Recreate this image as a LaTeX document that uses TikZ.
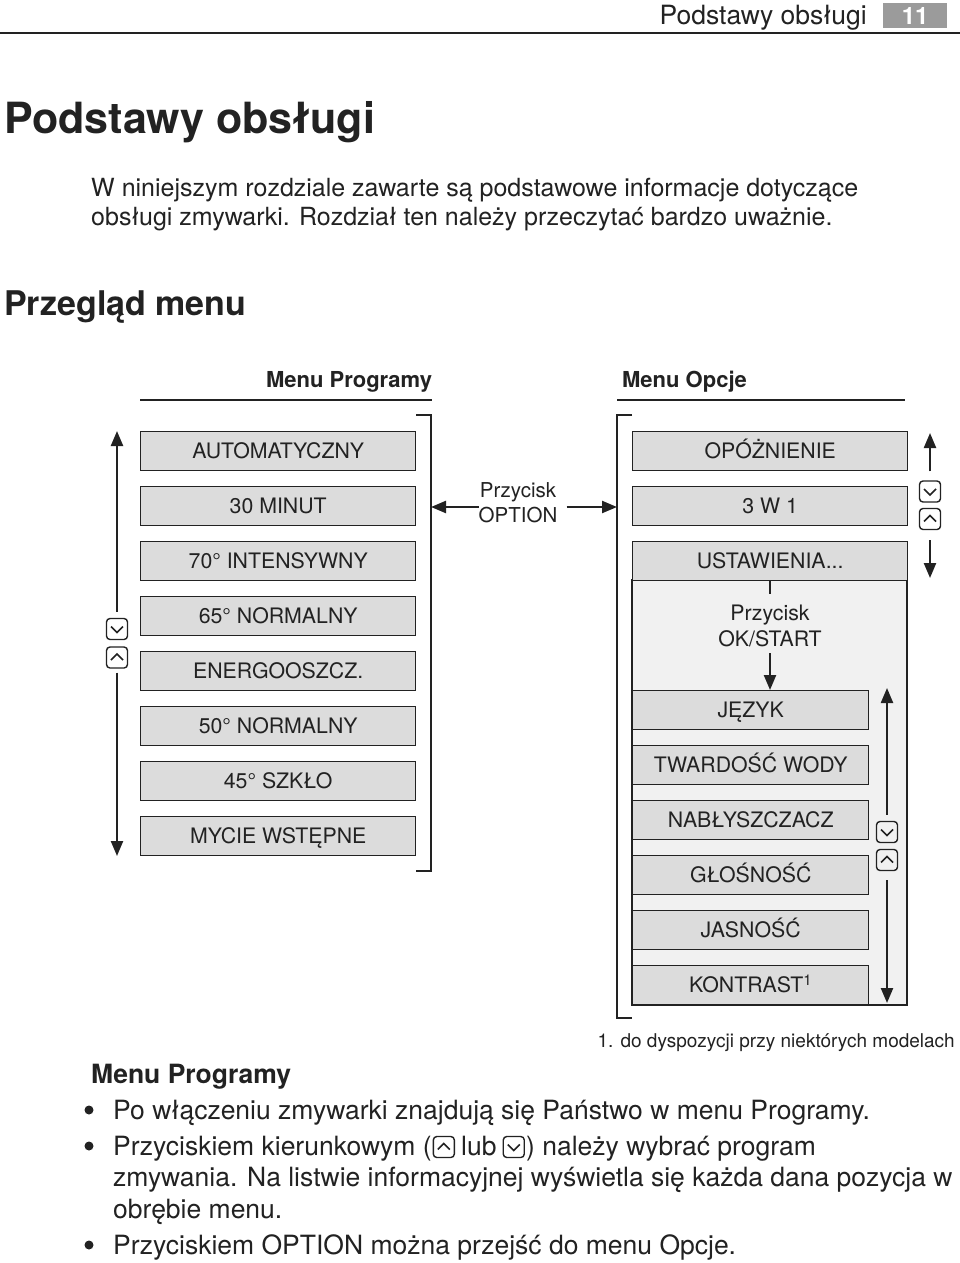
\documentclass[tikz,border=0pt]{standalone}
\usepackage{fontspec}
\setmainfont{TeX Gyre Heros}
\usetikzlibrary{arrows.meta}
\definecolor{boxfill}{HTML}{DCDCDC}
\definecolor{panelfill}{HTML}{F1F1F1}
\definecolor{ink}{HTML}{222222}
\definecolor{tabgray}{HTML}{9B9B9B}
\newcommand\fs[1]{\fontsize{#1}{#1}\selectfont}
\begin{document}
\begin{tikzpicture}[x=1pt,y=-1pt,
  txt/.style={inner sep=0pt, anchor=base west, text=ink},
  dot/.style={circle, fill=ink, inner sep=0pt, minimum size=9pt},
  menubox/.style={draw=ink, line width=1.4pt, fill=boxfill, minimum height=39pt, inner sep=0pt, anchor=north west, text height=15.4pt, text depth=0pt, font=\fs{21.3}, text=ink},
  wide/.style={menubox, minimum width=275pt},
  narrow/.style={menubox, minimum width=236pt},
  arr/.style={draw=ink, line width=2.3pt, -{Triangle[length=15pt,width=12pt]}},
  plain/.style={draw=ink, line width=2.3pt},
  bracket/.style={draw=ink, line width=1.5pt},
  rule/.style={draw=ink, line width=1.3pt},
  chevbox/.style={draw=ink, line width=1.4pt, rounded corners=3.5pt, minimum width=21pt, minimum height=21pt, inner sep=0pt},
  chevdown/.style={chevbox, path picture={\draw[ink, line width=1.6pt, sharp corners] ([shift={(-6pt,2.5pt)}]path picture bounding box.center) -- ([shift={(0pt,-3.5pt)}]path picture bounding box.center) -- ([shift={(6pt,2.5pt)}]path picture bounding box.center);}},
  chevup/.style={chevbox, path picture={\draw[ink, line width=1.6pt, sharp corners] ([shift={(-6pt,-2.5pt)}]path picture bounding box.center) -- ([shift={(0pt,3.5pt)}]path picture bounding box.center) -- ([shift={(6pt,-2.5pt)}]path picture bounding box.center);}},
]
\fill[white] (0,0) rectangle (960,1263);
\useasboundingbox (0,0) rectangle (960,1263);

% header
\node[txt, anchor=base east, font=\fs{26.5}] (hdr) at (867,25) {Podstawy obsługi};
\node[fill=tabgray, minimum width=64pt, minimum height=25pt, inner sep=0pt, anchor=north west, text=white, font=\bfseries\fs{24}] (pg) at (883,3) {11};
\draw[ink, line width=2pt] (0,33) -- (960,33);

% title & intro
\node[txt, font=\bfseries\fs{43}] (title) at (4,133) {Podstawy obsługi};
\node[txt, font=\fs{25}] (par1) at (91,196) {W niniejszym rozdziale zawarte są podstawowe informacje dotyczące};
\node[txt, font=\fs{25}] (par2) at (91,225) {obsługi zmywarki. Rozdział ten należy przeczytać bardzo uważnie.};
\node[txt, font=\bfseries\fs{34}] (sec) at (4,315) {Przegląd menu};

% column headings
\node[txt, anchor=base, font=\bfseries\fs{22}] (hprog) at (349,387) {Menu Programy};
\node[txt, anchor=base, font=\bfseries\fs{22}] (hopc) at (684.5,387) {Menu Opcje};
\draw[rule] (140,400) -- (432,400);
\draw[rule] (617,400) -- (905,400);

% program menu
\node[wide] (prg1) at (140,431) {AUTOMATYCZNY};
\node[wide] (prg2) at (140,486) {30 MINUT};
\node[wide] (prg3) at (140,541) {70° INTENSYWNY};
\node[wide] (prg4) at (140,596) {65° NORMALNY};
\node[wide] (prg5) at (140,651) {ENERGOOSZCZ.};
\node[wide] (prg6) at (140,706) {50° NORMALNY};
\node[wide] (prg7) at (140,761) {45° SZKŁO};
\node[wide] (prg8) at (140,816) {MYCIE WSTĘPNE};
\draw[bracket] (416,415) -- (431,415) -- (431,871) -- (416,871);

% left scroll
\node[chevdown] (ld) at (117,629) {};
\node[chevup] (lu) at (117,657.5) {};
\coordinate (ltop) at (117,431);
\coordinate (lbot) at (117,856);
\draw[arr] ([yshift=6pt]ld.north) -- (ltop);
\draw[arr] ([yshift=-4pt]lu.south) -- (lbot);

% option button
\node[font=\fontsize{20.5}{25}\selectfont, align=center, inner sep=0pt, text=ink] (opt) at (518,503) {Przycisk\\OPTION};
\coordinate (lbr) at (431,507);
\coordinate (rbr) at (617,507);
\draw[arr] (opt.west |- lbr) -- (lbr);
\draw[arr] ([xshift=9pt]opt.east |- rbr) -- (rbr);

% options menu
\draw[ink, line width=1.4pt, fill=panelfill] (632,580) rectangle (907,1005);
\node[wide] (opc1) at (632,431) {OPÓŻNIENIE};
\node[wide] (opc2) at (632,486) {3 W 1};
\node[wide] (opc3) at (632,541) {USTAWIENIA...};
\draw[bracket] (632,415) -- (617,415) -- (617,1018) -- (632,1018);

\node[chevdown] (rd) at (930,491.5) {};
\node[chevup] (ru) at (930,519) {};
\coordinate (rtop) at (930,433);
\coordinate (rbot) at (930,578);
\draw[arr] ([yshift=9pt]rd.north) -- (rtop);
\draw[arr] ([yshift=-10pt]ru.south) -- (rbot);

\node[font=\fontsize{21.3}{26}\selectfont, align=center, inner sep=0pt, text=ink] (okb) at (770,626) {Przycisk\\OK/START};
\draw[plain] (opc3.south -| okb) -- ++(0,13);

\node[narrow] (set1) at (632,690) {JĘZYK};
\node[narrow] (set2) at (632,745) {TWARDOŚĆ WODY};
\node[narrow] (set3) at (632,800) {NABŁYSZCZACZ};
\node[narrow] (set4) at (632,855) {GŁOŚNOŚĆ};
\node[narrow] (set5) at (632,910) {JASNOŚĆ};
\node[narrow] (set6) at (632,965) {KONTRAST\textsuperscript{1}};
\draw[arr] ([yshift=-6pt]okb.south) -- (set1.north -| okb);

\node[chevdown] (pd) at (887,832) {};
\node[chevup] (pu) at (887,860) {};
\coordinate (ptop) at (887,688);
\coordinate (pbot) at (887,1003);
\draw[arr] ([yshift=6pt]pd.north) -- (ptop);
\draw[arr] ([yshift=-9pt]pu.south) -- (pbot);

% footnote
\node[txt, anchor=base east, font=\fs{19}] (fn) at (955,1047) {1. do dyspozycji przy niektórych modelach};

% bottom text
\node[txt, font=\bfseries\fs{26.5}] (mp) at (91,1083) {Menu Programy};
\begin{scope}[every node/.append style={font=\fs{26.5}}]
\node[dot] (bul1) at (89,1110) {};
\node[txt] (l1) at (113,1119) {Po włączeniu zmywarki znajdują się Państwo w menu Programy.};
\node[dot] (bul2) at (89,1146) {};
\node[txt] (l2a) at (113,1155) {Przyciskiem kierunkowym (};
\path (l2a.base east) ++(12,-8) node[chevup] (i1) {};
\path (i1.east |- l2a.base) ++(6,0) node[txt] (l2b) {lub};
\path (l2b.base east) ++(17,-8) node[chevdown] (i2) {};
\path (i2.east |- l2a.base) ++(1,0) node[txt] (l2c) {) należy wybrać program};
\node[txt] (l3) at (113,1186) {zmywania. Na listwie informacyjnej wyświetla się każda dana pozycja w};
\node[txt] (l4) at (113,1218) {obrębie menu.};
\node[dot] (bul5) at (89,1245) {};
\node[txt] (l5) at (113,1254) {Przyciskiem OPTION można przejść do menu Opcje.};
\end{scope}
\end{tikzpicture}
\end{document}
